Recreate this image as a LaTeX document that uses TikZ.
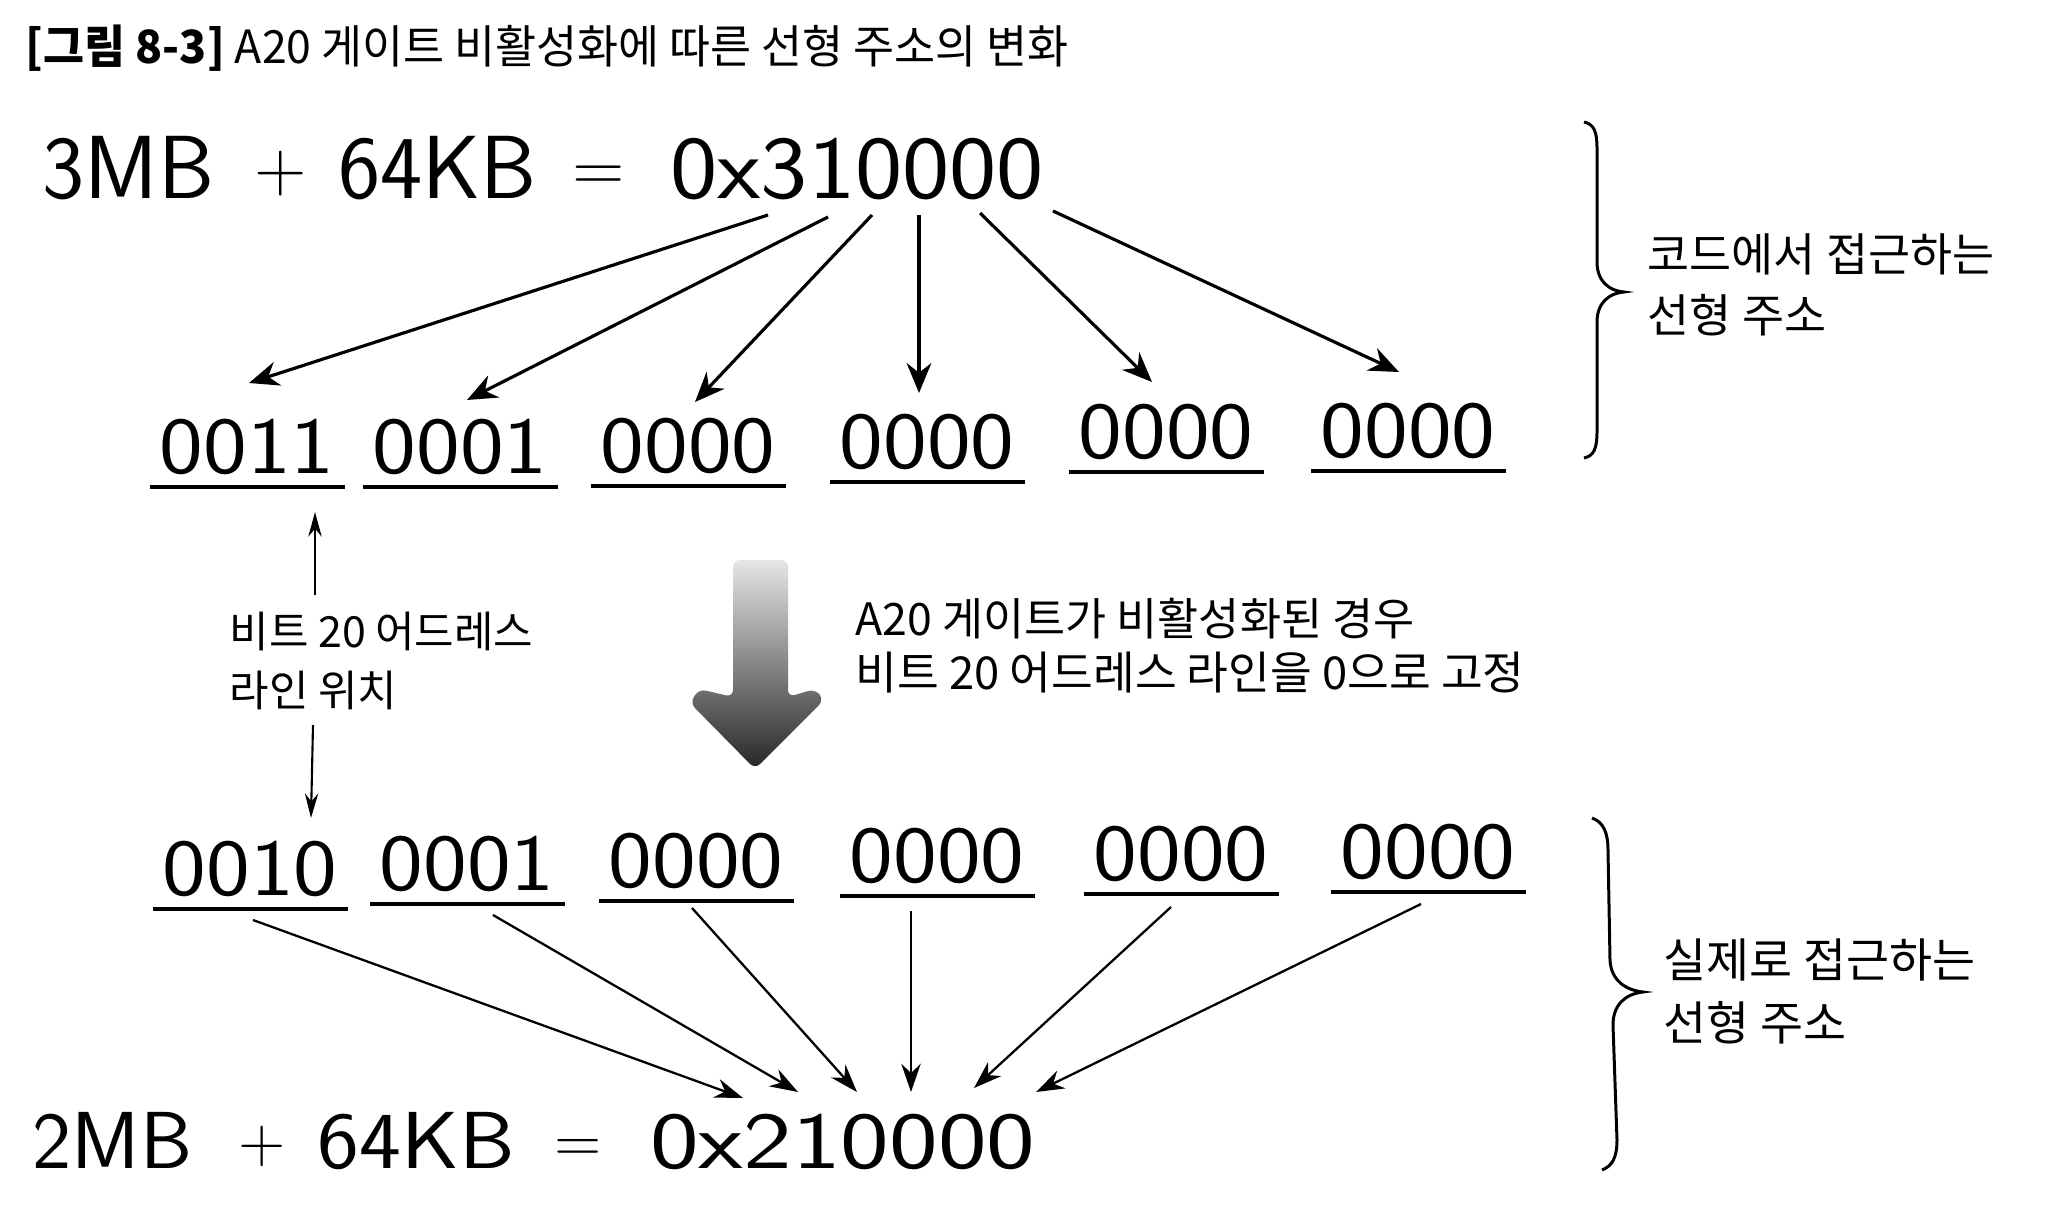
\documentclass[tikz,border=0pt]{standalone}
\usepackage{fontspec}
\usepackage{graphicx}
\setmainfont{Noto Sans CJK KR}
\newfontfamily\digf{Latin Modern Sans}
\usetikzlibrary{arrows.meta,calc}
\newcommand{\myplus}{\raisebox{0.07em}{\scalebox{0.8}{+}}}
\newcommand{\myequal}{\raisebox{0.07em}{\scalebox{0.8}{=}}}
\begin{document}
\begin{tikzpicture}[x=0.01cm,y=-0.01cm,
  lab/.style={anchor=base west,inner sep=0pt,font=\fontsize{13pt}{15pt}\selectfont},
  ttl/.style={anchor=base west,inner sep=0pt,xscale=0.975,font=\fontsize{13pt}{15pt}\selectfont},
  grp/.style={anchor=base,inner sep=0pt,xscale=1.15,font=\digf\fontsize{23pt}{27pt}\selectfont},
  formula/.style={anchor=base west,inner sep=0pt,font=\digf\fontsize{25.5pt}{30pt}\selectfont},
  uline/.style={line width=1.2pt},
  toparr/.style={line width=0.9pt,-{Stealth[length=8.5pt,width=7pt]}},
  botarr/.style={line width=0.65pt,-{Stealth[length=8pt,width=5.5pt]}},
  smallarr/.style={line width=0.6pt,-{Stealth[length=7pt,width=3.8pt]}},
  bracestyle/.style={line width=0.85pt}
]
\useasboundingbox[fill=white] (0,0) rectangle (2048,1209);

% title
\node[ttl] (title) at (25,63) {{\bfseries [그림 8-3]} A20 게이트 비활성화에 따른 선형 주소의 변화};

% formulas
\node[formula] (ftop) at (42,198) {3MB\hspace{0.40cm}\myplus\hspace{0.31cm}64KB\hspace{0.36cm}\myequal\hspace{0.45cm}\scalebox{1.12}[1]{0x310000}};
\node[formula,font=\digf\fontsize{23pt}{27pt}\selectfont] (fbot) at (32,1168) {\scalebox{1.03}[1]{2MB}\hspace{0.46cm}\myplus\hspace{0.32cm}\scalebox{1.1}[1]{64KB}\hspace{0.40cm}\myequal\hspace{0.48cm}\scalebox{1.28}[1]{0x210000}};

% top bit groups
\node[grp] (t1) at (247,473) {0011};
\node[grp] (t2) at (460,473) {0001};
\node[grp] (t3) at (688,472) {0000};
\node[grp] (t4) at (927,468) {0000};
\node[grp] (t5) at (1166,458) {0000};
\node[grp] (t6) at (1408,457) {0000};

% bottom bit groups
\node[grp] (b1) at (250,895) {0010};
\node[grp] (b2) at (467,890) {0001};
\node[grp] (b3) at (696,887) {0000};
\node[grp] (b4) at (937,882) {0000};
\node[grp] (b5) at (1181,880) {0000};
\node[grp] (b6) at (1428,878) {0000};

% underlines
\foreach \g in {t1,t2,t3,t4,t5,t6,b1,b2,b3,b4,b5,b6}{
  \draw[uline] ($(\g.base)+(-97,14)$) -- ($(\g.base)+(98,14)$);
}

% top arrows
\draw[toparr] ($(ftop.base west)+(726,17)$) -- ($(t1.base)+(2,-90)$);
\draw[toparr] ($(ftop.base west)+(786,19)$) -- ($(t2.base)+(7,-73)$);
\draw[toparr] ($(ftop.base west)+(830,17)$) -- ($(t3.base)+(7,-70)$);
\draw[toparr] ($(ftop.base west)+(877,17)$) -- ($(t4.base)+(-8,-75)$);
\draw[toparr] ($(ftop.base west)+(938,15)$) -- ($(t5.base)+(-14,-76)$);
\draw[toparr] ($(ftop.base west)+(1011,13)$) -- ($(t6.base)+(-9,-85)$);

% bottom arrows
\draw[botarr] ($(b1.base)+(3,25)$) -- ($(fbot.base west)+(711,-70)$);
\draw[botarr] ($(b2.base)+(26,25)$) -- ($(fbot.base west)+(766,-76)$);
\draw[botarr] ($(b3.base)+(-4,21)$) -- ($(fbot.base west)+(825,-76)$);
\draw[botarr] ($(b4.base)+(-26,29)$) -- ($(fbot.base west)+(879,-76)$);
\draw[botarr] ($(b5.base)+(-10,27)$) -- ($(fbot.base west)+(942,-80)$);
\draw[botarr] ($(b6.base)+(-7,26)$) -- ($(fbot.base west)+(1004,-76)$);

% bit 20 label
\node[lab,font=\fontsize{12.2pt}{14pt}\selectfont] (bitA) at (229,647) {비트 20 어드레스};
\node[lab,font=\fontsize{12.2pt}{14pt}\selectfont] (bitB) at (229,706) {라인 위치};
\draw[smallarr] ($(bitA.base west)+(86,-52)$) -- ($(t1.base)+(68,39)$);
\draw[smallarr] ($(bitB.base west)+(84,19)$) -- ($(b1.base)+(61,-77)$);

% big gradient arrow
\shade[top color=black!10,bottom color=black!85,rounded corners=2pt]
  (733,560) -- (733,697) -- (699,689) -- (690,703) -- (755,769) -- (824,700) -- (815,689) -- (788,697) -- (788,560) -- cycle;

% middle explanation
\node[lab,font=\fontsize{12.7pt}{14pt}\selectfont] (midA) at (855,635) {A20 게이트가 비활성화된 경우};
\node[lab,font=\fontsize{12.9pt}{14pt}\selectfont] (midB) at (855,689) {비트 20 어드레스 라인을 0으로 고정};

% top brace
\draw[bracestyle] (1584,122) .. controls (1594,124) and (1597,132) .. (1597,148)
  -- (1597,262) .. controls (1597,282) and (1610,291) .. (1624,292)
  .. controls (1610,293) and (1597,302) .. (1597,322)
  -- (1597,432) .. controls (1597,448) and (1594,456) .. (1584,458);
\node[lab] (codeA) at (1647,271) {코드에서 접근하는};
\node[lab] (codeB) at (1647,332) {선형 주소};

% bottom brace
\draw[bracestyle] (1592,818) .. controls (1603,822) and (1608,832) .. (1608,850)
  -- (1610,960) .. controls (1611,980) and (1625,990) .. (1643,992)
  .. controls (1625,994) and (1613,1005) .. (1613,1025)
  -- (1617,1140) .. controls (1617,1158) and (1612,1166) .. (1602,1170);
\node[lab,font=\fontsize{13.3pt}{15pt}\selectfont] (realA) at (1663,977) {실제로 접근하는};
\node[lab,font=\fontsize{13.3pt}{15pt}\selectfont] (realB) at (1663,1040) {선형 주소};
\end{tikzpicture}
\end{document}
